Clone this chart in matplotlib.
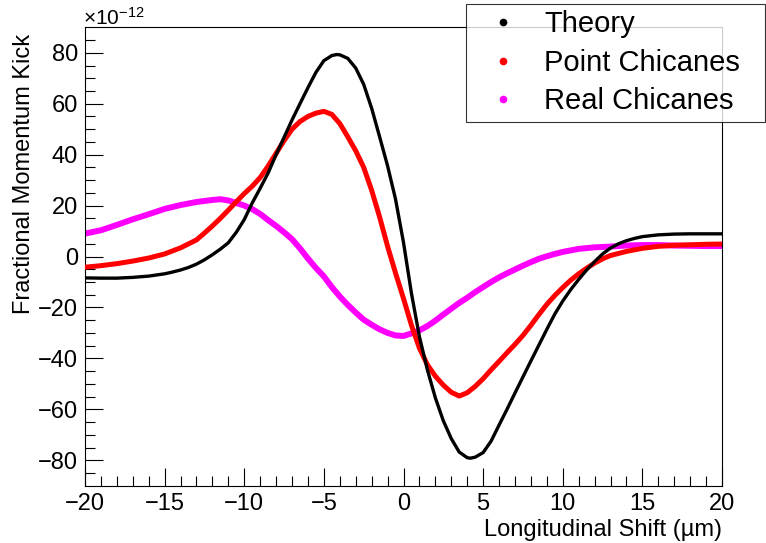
import numpy as np
import matplotlib
matplotlib.use("Agg")
import matplotlib.pyplot as plt
from matplotlib.lines import Line2D

plt.rcParams['font.family'] = ['Liberation Sans', 'DejaVu Sans']
plt.rcParams['mathtext.fontset'] = 'custom'
plt.rcParams['mathtext.rm'] = 'Liberation Sans'
plt.rcParams['mathtext.it'] = 'Liberation Sans:italic'

# values in units of 1e-12
theory_x = [-20, -19, -18, -17, -16, -15, -14.5, -14, -13.5, -13, -12.5, -12,
            -11.5, -11, -10.5, -10, -9.5, -9, -8.5, -8, -7.5, -7, -6.5, -6,
            -5.5, -5, -4.5, -4.2, -4, -3.5, -3, -2.5, -2, -1.5, -1, -0.5, 0,
            0.5, 1, 1.5, 2, 2.5, 3, 3.5, 4, 4.2, 4.5, 5, 5.5, 6, 6.5, 7, 7.5,
            8, 8.5, 9, 9.5, 10, 10.5, 11, 11.5, 12, 12.5, 13, 13.5, 14, 14.5,
            15, 16, 17, 18, 19, 20]
theory_y = [-8.4, -8.5, -8.5, -8.2, -7.7, -6.8, -6.1, -5.3, -4.3, -3.0, -1.3,
            0.7, 2.9, 5.4, 9.5, 14.5, 21.0, 26.8, 32.8, 40.0, 46.8, 53.6, 60.0,
            66.3, 72.3, 76.9, 78.9, 79.3, 79.2, 77.8, 74.0, 67.6, 58.2, 47.0,
            35.6, 22.5, 5.5, -14.5, -31.5, -44.5, -55.5, -64.5, -71.5, -76.8,
            -79.0, -79.2, -78.8, -77.0, -72.5, -66.2, -60.0, -53.6, -47.3,
            -41.0, -34.8, -28.6, -22.6, -17.5, -13.0, -9.0, -5.3, -2.0, 1.0,
            3.3, 5.0, 6.2, 7.1, 7.8, 8.5, 8.8, 8.9, 8.9, 8.9]

point_x = [-20, -19, -18, -17, -16, -15, -14, -13, -12.5, -12, -11.5, -11,
           -10.5, -10, -9.5, -9, -8.5, -8, -7.5, -7, -6.5, -6, -5.5, -5, -4.5,
           -4, -3.5, -3, -2.5, -2, -1.5, -1, -0.5, 0, 0.5, 1, 1.5, 2, 2.5, 3,
           3.5, 4, 4.5, 5, 5.5, 6, 6.5, 7, 7.5, 8, 8.5, 9, 9.5, 10, 10.5, 11,
           11.5, 12, 12.5, 13, 14, 15, 16, 17, 18, 19, 20]
point_y = [-4.2, -3.6, -2.8, -1.8, -0.6, 1.0, 3.4, 6.5, 9.2, 12.0, 15.0, 18.2,
           21.5, 24.7, 27.6, 31.0, 35.5, 40.5, 45.5, 50.0, 53.0, 55.0, 56.3,
           57.0, 55.8, 52.2, 47.0, 41.5, 35.0, 26.0, 15.5, 4.0, -6.5, -16.5,
           -27.0, -36.0, -42.5, -47.0, -50.5, -53.3, -54.8, -53.5, -51.0,
           -48.0, -44.5, -41.2, -37.8, -34.5, -31.0, -27.0, -22.8, -18.8,
           -15.3, -12.2, -9.3, -6.8, -4.6, -2.6, -0.9, 0.4, 2.0, 3.2, 4.0, 4.4,
           4.6, 4.8, 4.9]

real_x = [-20, -19, -18, -17, -16, -15, -14, -13, -12, -11.5, -11, -10.5, -10,
          -9.5, -9, -8.5, -8, -7.5, -7, -6.5, -6, -5.5, -5, -4.5, -4, -3.5, -3,
          -2.5, -2, -1.5, -1, -0.5, 0, 0.5, 1, 1.5, 2, 2.5, 3, 3.5, 4, 4.5, 5,
          5.5, 6, 6.5, 7, 7.5, 8, 8.5, 9, 9.5, 10, 11, 12, 13, 14, 15, 16, 17,
          18, 19, 20]
real_y = [9, 10.3, 12.4, 14.6, 16.6, 18.7, 20.2, 21.4, 22.2, 22.5, 22, 21,
          20, 18.6, 16.7, 14.3, 12, 9.5, 6.8, 3.2, -0.8, -4.5, -7.8, -12,
          -15.7, -19, -22, -24.8, -26.8, -28.6, -30, -31, -31.2, -30.2, -29,
          -27.3, -25.2, -22.8, -20.5, -18.2, -16.2, -14, -12, -10, -8.2, -6.6,
          -5.1, -3.6, -2.2, -0.9, 0.1, 1.0, 1.8, 3.0, 3.6, 3.9, 4.3, 4.5, 4.5,
          4.3, 4.2, 4.1, 4.1]

fig = plt.figure(figsize=(7.66, 5.43), dpi=100)
ax = fig.add_axes([85 / 766, 1 - 485.7 / 543, 637 / 766, 458.4 / 543])

ax.plot(real_x, real_y, color='#ff00ff', lw=4.3, solid_joinstyle='round', zorder=2)
ax.plot(point_x, point_y, color='#ff0000', lw=3.6, solid_joinstyle='round', zorder=3)
ax.plot(theory_x, theory_y, color='black', lw=2.4, solid_joinstyle='round', zorder=4)

ax.set_xlim(-20, 20)
ax.set_ylim(-90, 90)
ax.set_xticks(np.arange(-20, 21, 5))
ax.set_xticks(np.arange(-20, 21, 1), minor=True)
ax.set_yticks(np.arange(-80, 81, 20))
ax.set_yticks(np.arange(-85, 90, 5), minor=True)
ax.tick_params(which='both', direction='in', top=False, right=False,
               width=0.8, labelsize=17)
ax.tick_params(which='major', length=13)
ax.tick_params(which='minor', length=7)
ax.tick_params(axis='y', pad=5)
ax.tick_params(axis='x', pad=5)
for s in ax.spines.values():
    s.set_linewidth(0.8)

ax.set_xlabel('Longitudinal Shift (µm)', fontsize=17, loc='right')
ax.xaxis.set_label_coords(1.0, -0.072)
ax.set_ylabel('Fractional Momentum Kick', fontsize=17, loc='top')
ax.yaxis.set_label_coords(-0.079, 0.985)

fig.text(83 / 766, 1 - 25 / 543, r'$\times10^{-12}$', fontsize=15, va='baseline')

handles = [Line2D([], [], ls='none', marker='o', ms=4.5, color=c)
           for c in ['black', '#ff0000', '#ff00ff']]
leg = fig.legend(handles, ['Theory', 'Point Chicanes', 'Real Chicanes'],
                 loc='upper left',
                 bbox_to_anchor=(466 / 766, 1 - 118 / 543, 299 / 766, 114 / 543),
                 bbox_transform=fig.transFigure, mode='expand', fontsize=21,
                 frameon=True, fancybox=False, borderaxespad=0, borderpad=0.22,
                 labelspacing=0.36, handlelength=2.1, handletextpad=0.35)
leg.get_frame().set_edgecolor('black')
leg.get_frame().set_linewidth(0.8)

fig.savefig('out.png', dpi=100)
